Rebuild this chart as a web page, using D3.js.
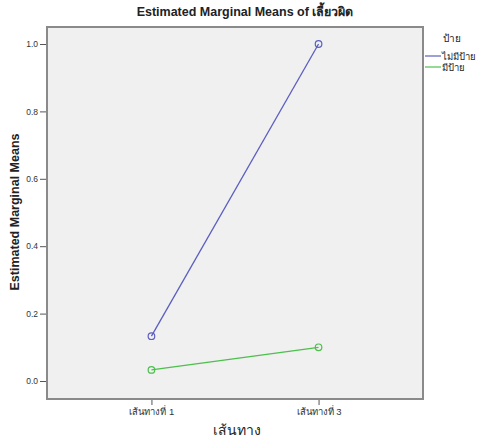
<!DOCTYPE html>
<html><head><meta charset="utf-8">
<script src="https://cdn.jsdelivr.net/npm/d3@7"></script>
<style>body{margin:0;background:#fff;}svg{display:block;}</style>
</head><body>
<svg id="c" width="483" height="441"></svg>
<script>
const categories = ["เส้นทางที่ 1", "เส้นทางที่ 3"];
const seriesNames = ["ไม่มีป้าย", "มีป้าย"];
const noSign = [0.133, 1.0];
const withSign = [0.033, 0.1];
const yTicks = [0.0, 0.2, 0.4, 0.6, 0.8, 1.0];
const seriesValues = [noSign, withSign];
const colors = ["#5c5fbf", "#4cbf4c"];

const svg = d3.select("#c");
const L = 47, R = 423, T = 27, B = 399;
const x = d3.scalePoint().domain(categories).range([L, R]).padding(0.625);
const y = d3.scaleLinear().domain([0, 1]).range([381, 44]);
const font = "Arial, 'Liberation Sans', 'Noto Sans', sans-serif";

svg.append("rect").attr("x", L).attr("y", T).attr("width", R - L).attr("height", B - T)
  .attr("fill", "#f0f0f0").attr("stroke", "#8a8a8a").attr("stroke-width", 2);

// y axis
const ya = svg.append("g").attr("transform", `translate(${L - 1},0)`)
  .call(d3.axisLeft(y).tickValues(yTicks).tickFormat(d3.format(".1f")).tickSize(6).tickPadding(2));
ya.select(".domain").remove();
ya.selectAll("line").attr("stroke", "#555");
ya.selectAll("text").attr("font-family", font).attr("font-size", 8.5).attr("fill", "#333");

// x axis
const xa = svg.append("g").attr("transform", `translate(0,${B + 1})`)
  .call(d3.axisBottom(x).tickSize(5).tickPadding(3));
xa.select(".domain").remove();
xa.selectAll("line").attr("stroke", "#555");
xa.selectAll("text").attr("font-family", font).attr("font-size", 9.5).attr("fill", "#333");

// lines
const line = d3.line().x((d, i) => x(categories[i])).y(d => y(d));
seriesValues.forEach((vals, si) => {
  svg.append("path").datum(vals).attr("d", line).attr("fill", "none")
    .attr("stroke", colors[si]).attr("stroke-width", 1.3);
  svg.selectAll(null).data(vals).enter().append("circle")
    .attr("cx", (d, i) => x(categories[i])).attr("cy", d => y(d)).attr("r", 3.3)
    .attr("fill", "none").attr("stroke", colors[si]).attr("stroke-width", 1.2);
});

// title
svg.append("text").attr("x", 245).attr("y", 16).attr("text-anchor", "middle")
  .attr("font-family", font).attr("font-size", 12.5).attr("font-weight", "bold").attr("fill", "#222")
  .text("Estimated Marginal Means of เลี้ยวผิด");

// y title
svg.append("text").attr("transform", "translate(19,212) rotate(-90)").attr("text-anchor", "middle")
  .attr("font-family", font).attr("font-size", 12.5).attr("font-weight", "bold").attr("fill", "#222")
  .text("Estimated Marginal Means");

// x title
svg.append("text").attr("x", 237).attr("y", 435).attr("text-anchor", "middle")
  .attr("font-family", font).attr("font-size", 14).attr("fill", "#222").text("เส้นทาง");

// legend
svg.append("text").attr("x", 443).attr("y", 42).attr("font-family", font).attr("font-size", 10)
  .attr("fill", "#222").text("ป้าย");
seriesNames.forEach((n, i) => {
  const ly = 56 + i * 11;
  svg.append("line").attr("x1", 425).attr("x2", 441).attr("y1", ly).attr("y2", ly)
    .attr("stroke", colors[i]).attr("stroke-width", 1.2);
  svg.append("text").attr("x", 442).attr("y", ly + 3.5).attr("font-family", font).attr("font-size", 9.5)
    .attr("fill", "#222").text(n);
});
</script>
</body></html>
